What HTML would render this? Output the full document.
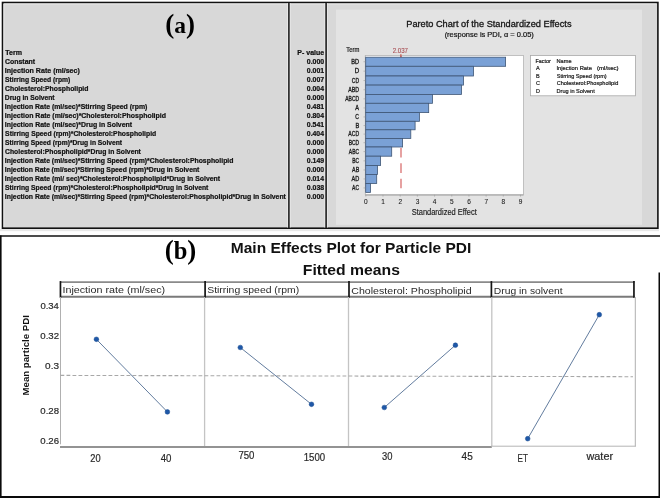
<!DOCTYPE html>
<html><head><meta charset="utf-8"><style>
html,body{margin:0;padding:0;background:#fff;}
body{width:660px;height:498px;overflow:hidden;font-family:"Liberation Sans", sans-serif;}
svg{display:block;will-change:transform;}
</style></head><body>
<svg width="660" height="498" viewBox="0 0 660 498">
<rect x="0" y="0" width="660" height="498" fill="#fff"/>
<rect x="0" y="229" width="659" height="2.2" fill="#e8e8e8"/>
<rect x="2.5" y="2.5" width="655.4" height="225.7" fill="#d8d8d8" stroke="#111" stroke-width="1.6"/>
<path d="M4,227 V4 H656.5" fill="none" stroke="#e6e6e6" stroke-width="1"/>
<rect x="336" y="9.6" width="306" height="215.2" fill="#e3e3e3"/>
<line x1="288.9" y1="3.3" x2="288.9" y2="227.4" stroke="#e6e6e6" stroke-width="3.8"/>
<line x1="288.9" y1="2" x2="288.9" y2="228.5" stroke="#111" stroke-width="1.5"/>
<line x1="326.1" y1="3.3" x2="326.1" y2="227.4" stroke="#e6e6e6" stroke-width="3.8"/>
<line x1="326.1" y1="2" x2="326.1" y2="228.5" stroke="#111" stroke-width="1.5"/>
<text x="5.23" y="54.80" font-size="6.9" fill="#111" font-weight="bold" font-family='"Liberation Sans", sans-serif' textLength="16.70" lengthAdjust="spacingAndGlyphs" stroke="#111" stroke-width="0.22">Term</text>
<text x="297.35" y="54.80" font-size="6.9" fill="#111" font-weight="bold" font-family='"Liberation Sans", sans-serif' textLength="26.80" lengthAdjust="spacingAndGlyphs" stroke="#111" stroke-width="0.22">P- value</text>
<text x="5.02" y="63.80" font-size="6.9" fill="#111" font-weight="bold" font-family='"Liberation Sans", sans-serif' textLength="30.07" lengthAdjust="spacingAndGlyphs" stroke="#111" stroke-width="0.22">Constant</text>
<text x="306.82" y="63.80" font-size="6.9" fill="#111" font-weight="bold" font-family='"Liberation Sans", sans-serif' textLength="17.37" lengthAdjust="spacingAndGlyphs" stroke="#111" stroke-width="0.22">0.000</text>
<text x="4.84" y="72.80" font-size="6.9" fill="#111" font-weight="bold" font-family='"Liberation Sans", sans-serif' textLength="75.01" lengthAdjust="spacingAndGlyphs" stroke="#111" stroke-width="0.22">Injection Rate (ml/sec)</text>
<text x="306.82" y="72.80" font-size="6.9" fill="#111" font-weight="bold" font-family='"Liberation Sans", sans-serif' textLength="17.27" lengthAdjust="spacingAndGlyphs" stroke="#111" stroke-width="0.22">0.001</text>
<text x="5.10" y="81.80" font-size="6.9" fill="#111" font-weight="bold" font-family='"Liberation Sans", sans-serif' textLength="65.22" lengthAdjust="spacingAndGlyphs" stroke="#111" stroke-width="0.22">Stirring Speed (rpm)</text>
<text x="306.82" y="81.80" font-size="6.9" fill="#111" font-weight="bold" font-family='"Liberation Sans", sans-serif' textLength="17.37" lengthAdjust="spacingAndGlyphs" stroke="#111" stroke-width="0.22">0.007</text>
<text x="5.03" y="90.80" font-size="6.9" fill="#111" font-weight="bold" font-family='"Liberation Sans", sans-serif' textLength="83.43" lengthAdjust="spacingAndGlyphs" stroke="#111" stroke-width="0.22">Cholesterol:Phospholipid</text>
<text x="306.83" y="90.80" font-size="6.9" fill="#111" font-weight="bold" font-family='"Liberation Sans", sans-serif' textLength="17.13" lengthAdjust="spacingAndGlyphs" stroke="#111" stroke-width="0.22">0.004</text>
<text x="4.86" y="99.80" font-size="6.9" fill="#111" font-weight="bold" font-family='"Liberation Sans", sans-serif' textLength="49.73" lengthAdjust="spacingAndGlyphs" stroke="#111" stroke-width="0.22">Drug in Solvent</text>
<text x="306.82" y="99.80" font-size="6.9" fill="#111" font-weight="bold" font-family='"Liberation Sans", sans-serif' textLength="17.37" lengthAdjust="spacingAndGlyphs" stroke="#111" stroke-width="0.22">0.000</text>
<text x="4.85" y="108.80" font-size="6.9" fill="#111" font-weight="bold" font-family='"Liberation Sans", sans-serif' textLength="142.46" lengthAdjust="spacingAndGlyphs" stroke="#111" stroke-width="0.22">Injection Rate (ml/sec)*Stirring Speed (rpm)</text>
<text x="306.82" y="108.80" font-size="6.9" fill="#111" font-weight="bold" font-family='"Liberation Sans", sans-serif' textLength="17.27" lengthAdjust="spacingAndGlyphs" stroke="#111" stroke-width="0.22">0.481</text>
<text x="4.85" y="117.80" font-size="6.9" fill="#111" font-weight="bold" font-family='"Liberation Sans", sans-serif' textLength="161.10" lengthAdjust="spacingAndGlyphs" stroke="#111" stroke-width="0.22">Injection Rate (ml/sec)*Cholesterol:Phospholipid</text>
<text x="306.83" y="117.80" font-size="6.9" fill="#111" font-weight="bold" font-family='"Liberation Sans", sans-serif' textLength="17.13" lengthAdjust="spacingAndGlyphs" stroke="#111" stroke-width="0.22">0.804</text>
<text x="4.85" y="126.80" font-size="6.9" fill="#111" font-weight="bold" font-family='"Liberation Sans", sans-serif' textLength="127.24" lengthAdjust="spacingAndGlyphs" stroke="#111" stroke-width="0.22">Injection Rate (ml/sec)*Drug in Solvent</text>
<text x="306.82" y="126.80" font-size="6.9" fill="#111" font-weight="bold" font-family='"Liberation Sans", sans-serif' textLength="17.27" lengthAdjust="spacingAndGlyphs" stroke="#111" stroke-width="0.22">0.541</text>
<text x="5.10" y="135.80" font-size="6.9" fill="#111" font-weight="bold" font-family='"Liberation Sans", sans-serif' textLength="151.09" lengthAdjust="spacingAndGlyphs" stroke="#111" stroke-width="0.22">Stirring Speed (rpm)*Cholesterol:Phospholipid</text>
<text x="306.83" y="135.80" font-size="6.9" fill="#111" font-weight="bold" font-family='"Liberation Sans", sans-serif' textLength="17.13" lengthAdjust="spacingAndGlyphs" stroke="#111" stroke-width="0.22">0.404</text>
<text x="5.10" y="144.80" font-size="6.9" fill="#111" font-weight="bold" font-family='"Liberation Sans", sans-serif' textLength="116.98" lengthAdjust="spacingAndGlyphs" stroke="#111" stroke-width="0.22">Stirring Speed (rpm)*Drug in Solvent</text>
<text x="306.82" y="144.80" font-size="6.9" fill="#111" font-weight="bold" font-family='"Liberation Sans", sans-serif' textLength="17.37" lengthAdjust="spacingAndGlyphs" stroke="#111" stroke-width="0.22">0.000</text>
<text x="5.03" y="153.80" font-size="6.9" fill="#111" font-weight="bold" font-family='"Liberation Sans", sans-serif' textLength="135.83" lengthAdjust="spacingAndGlyphs" stroke="#111" stroke-width="0.22">Cholesterol:Phospholipid*Drug in Solvent</text>
<text x="306.82" y="153.80" font-size="6.9" fill="#111" font-weight="bold" font-family='"Liberation Sans", sans-serif' textLength="17.37" lengthAdjust="spacingAndGlyphs" stroke="#111" stroke-width="0.22">0.000</text>
<text x="4.85" y="162.80" font-size="6.9" fill="#111" font-weight="bold" font-family='"Liberation Sans", sans-serif' textLength="228.61" lengthAdjust="spacingAndGlyphs" stroke="#111" stroke-width="0.22">Injection Rate (ml/sec)*Stirring Speed (rpm)*Cholesterol:Phospholipid</text>
<text x="306.82" y="162.80" font-size="6.9" fill="#111" font-weight="bold" font-family='"Liberation Sans", sans-serif' textLength="17.34" lengthAdjust="spacingAndGlyphs" stroke="#111" stroke-width="0.22">0.149</text>
<text x="4.86" y="171.80" font-size="6.9" fill="#111" font-weight="bold" font-family='"Liberation Sans", sans-serif' textLength="194.54" lengthAdjust="spacingAndGlyphs" stroke="#111" stroke-width="0.22">Injection Rate (ml/sec)*Stirring Speed (rpm)*Drug in Solvent</text>
<text x="306.82" y="171.80" font-size="6.9" fill="#111" font-weight="bold" font-family='"Liberation Sans", sans-serif' textLength="17.37" lengthAdjust="spacingAndGlyphs" stroke="#111" stroke-width="0.22">0.000</text>
<text x="4.85" y="180.80" font-size="6.9" fill="#111" font-weight="bold" font-family='"Liberation Sans", sans-serif' textLength="215.23" lengthAdjust="spacingAndGlyphs" stroke="#111" stroke-width="0.22">Injection Rate (ml/ sec)*Cholesterol:Phospholipid*Drug in Solvent</text>
<text x="306.83" y="180.80" font-size="6.9" fill="#111" font-weight="bold" font-family='"Liberation Sans", sans-serif' textLength="17.13" lengthAdjust="spacingAndGlyphs" stroke="#111" stroke-width="0.22">0.014</text>
<text x="5.10" y="189.80" font-size="6.9" fill="#111" font-weight="bold" font-family='"Liberation Sans", sans-serif' textLength="203.28" lengthAdjust="spacingAndGlyphs" stroke="#111" stroke-width="0.22">Stirring Speed (rpm)*Cholesterol:Phospholipid*Drug in Solvent</text>
<text x="306.82" y="189.80" font-size="6.9" fill="#111" font-weight="bold" font-family='"Liberation Sans", sans-serif' textLength="17.30" lengthAdjust="spacingAndGlyphs" stroke="#111" stroke-width="0.22">0.038</text>
<text x="4.85" y="198.80" font-size="6.9" fill="#111" font-weight="bold" font-family='"Liberation Sans", sans-serif' textLength="281.05" lengthAdjust="spacingAndGlyphs" stroke="#111" stroke-width="0.22">Injection Rate (ml/sec)*Stirring Speed (rpm)*Cholesterol:Phospholipid*Drug in Solvent</text>
<text x="306.82" y="198.80" font-size="6.9" fill="#111" font-weight="bold" font-family='"Liberation Sans", sans-serif' textLength="17.37" lengthAdjust="spacingAndGlyphs" stroke="#111" stroke-width="0.22">0.000</text>
<text x="180" y="33.2" font-size="27" font-weight="bold" text-anchor="middle" font-family='"Liberation Serif", serif' fill="#000">(<tspan font-size="23.5">a</tspan>)</text>
<text x="406.26" y="26.70" font-size="9.3" fill="#151515" font-weight="normal" font-family='"Liberation Sans", sans-serif' textLength="165.28" lengthAdjust="spacingAndGlyphs" stroke="#151515" stroke-width="0.3">Pareto Chart of the Standardized Effects</text>
<text x="444.65" y="37.00" font-size="6.9" fill="#151515" font-weight="normal" font-family='"Liberation Sans", sans-serif' textLength="89.13" lengthAdjust="spacingAndGlyphs" stroke="#151515" stroke-width="0.2">(response is PDI, α = 0.05)</text>
<text x="346.28" y="51.80" font-size="6.5" fill="#1a1a1a" font-weight="normal" font-family='"Liberation Sans", sans-serif' textLength="13.08" lengthAdjust="spacingAndGlyphs" stroke="#1a1a1a" stroke-width="0.2">Term</text>
<text x="392.69" y="52.90" font-size="6.6" fill="#a84f55" font-weight="normal" font-family='"Liberation Sans", sans-serif' textLength="15.33" lengthAdjust="spacingAndGlyphs" stroke="#a84f55" stroke-width="0.12">2.037</text>
<rect x="365.3" y="55.5" width="158.2" height="139.3" fill="#fff" stroke="#b4b4b4" stroke-width="0.8"/>
<line x1="401" y1="55.5" x2="401" y2="193" stroke="#dc7b7b" stroke-width="1.4" stroke-dasharray="9.6 5.8"/>
<line x1="400.9" y1="54" x2="400.9" y2="57" stroke="#c0392b" stroke-width="0.8"/>
<rect x="365.7" y="57.20" width="139.90" height="9.10" fill="#7aa1d6" stroke="#3f5675" stroke-width="0.8"/>
<text x="351.35" y="63.95" font-size="6.3" fill="#1a1a1a" font-weight="normal" font-family='"Liberation Sans", sans-serif' textLength="7.83" lengthAdjust="spacingAndGlyphs" stroke="#1a1a1a" stroke-width="0.3">BD</text>
<line x1="363.5" y1="61.75" x2="365.3" y2="61.75" stroke="#999" stroke-width="0.6"/>
<rect x="365.7" y="66.30" width="107.80" height="9.70" fill="#7aa1d6" stroke="#3f5675" stroke-width="0.8"/>
<text x="354.70" y="73.35" font-size="6.3" fill="#1a1a1a" font-weight="normal" font-family='"Liberation Sans", sans-serif' textLength="4.49" lengthAdjust="spacingAndGlyphs" stroke="#1a1a1a" stroke-width="0.3">D</text>
<line x1="363.5" y1="71.15" x2="365.3" y2="71.15" stroke="#999" stroke-width="0.6"/>
<rect x="365.7" y="76.00" width="97.80" height="9.10" fill="#7aa1d6" stroke="#3f5675" stroke-width="0.8"/>
<text x="351.85" y="82.75" font-size="6.3" fill="#1a1a1a" font-weight="normal" font-family='"Liberation Sans", sans-serif' textLength="7.30" lengthAdjust="spacingAndGlyphs" stroke="#1a1a1a" stroke-width="0.3">CD</text>
<line x1="363.5" y1="80.55" x2="365.3" y2="80.55" stroke="#999" stroke-width="0.6"/>
<rect x="365.7" y="85.10" width="95.80" height="9.30" fill="#7aa1d6" stroke="#3f5675" stroke-width="0.8"/>
<text x="348.30" y="91.95" font-size="6.3" fill="#1a1a1a" font-weight="normal" font-family='"Liberation Sans", sans-serif' textLength="10.84" lengthAdjust="spacingAndGlyphs" stroke="#1a1a1a" stroke-width="0.3">ABD</text>
<line x1="363.5" y1="89.75" x2="365.3" y2="89.75" stroke="#999" stroke-width="0.6"/>
<rect x="365.7" y="94.40" width="66.80" height="8.90" fill="#7aa1d6" stroke="#3f5675" stroke-width="0.8"/>
<text x="345.30" y="101.05" font-size="6.3" fill="#1a1a1a" font-weight="normal" font-family='"Liberation Sans", sans-serif' textLength="13.84" lengthAdjust="spacingAndGlyphs" stroke="#1a1a1a" stroke-width="0.3">ABCD</text>
<line x1="363.5" y1="98.85" x2="365.3" y2="98.85" stroke="#999" stroke-width="0.6"/>
<rect x="365.7" y="103.30" width="63.00" height="9.30" fill="#7aa1d6" stroke="#3f5675" stroke-width="0.8"/>
<text x="355.20" y="110.15" font-size="6.3" fill="#1a1a1a" font-weight="normal" font-family='"Liberation Sans", sans-serif' textLength="3.71" lengthAdjust="spacingAndGlyphs" stroke="#1a1a1a" stroke-width="0.3">A</text>
<line x1="363.5" y1="107.95" x2="365.3" y2="107.95" stroke="#999" stroke-width="0.6"/>
<rect x="365.7" y="112.60" width="53.70" height="8.70" fill="#7aa1d6" stroke="#3f5675" stroke-width="0.8"/>
<text x="355.34" y="119.15" font-size="6.3" fill="#1a1a1a" font-weight="normal" font-family='"Liberation Sans", sans-serif' textLength="3.75" lengthAdjust="spacingAndGlyphs" stroke="#1a1a1a" stroke-width="0.3">C</text>
<line x1="363.5" y1="116.95" x2="365.3" y2="116.95" stroke="#999" stroke-width="0.6"/>
<rect x="365.7" y="121.30" width="49.40" height="8.50" fill="#7aa1d6" stroke="#3f5675" stroke-width="0.8"/>
<text x="355.45" y="127.75" font-size="6.3" fill="#1a1a1a" font-weight="normal" font-family='"Liberation Sans", sans-serif' textLength="3.74" lengthAdjust="spacingAndGlyphs" stroke="#1a1a1a" stroke-width="0.3">B</text>
<line x1="363.5" y1="125.55" x2="365.3" y2="125.55" stroke="#999" stroke-width="0.6"/>
<rect x="365.7" y="129.80" width="45.10" height="8.60" fill="#7aa1d6" stroke="#3f5675" stroke-width="0.8"/>
<text x="348.30" y="136.30" font-size="6.3" fill="#1a1a1a" font-weight="normal" font-family='"Liberation Sans", sans-serif' textLength="10.84" lengthAdjust="spacingAndGlyphs" stroke="#1a1a1a" stroke-width="0.3">ACD</text>
<line x1="363.5" y1="134.10" x2="365.3" y2="134.10" stroke="#999" stroke-width="0.6"/>
<rect x="365.7" y="138.40" width="36.90" height="8.60" fill="#7aa1d6" stroke="#3f5675" stroke-width="0.8"/>
<text x="348.71" y="144.90" font-size="6.3" fill="#1a1a1a" font-weight="normal" font-family='"Liberation Sans", sans-serif' textLength="10.42" lengthAdjust="spacingAndGlyphs" stroke="#1a1a1a" stroke-width="0.3">BCD</text>
<line x1="363.5" y1="142.70" x2="365.3" y2="142.70" stroke="#999" stroke-width="0.6"/>
<rect x="365.7" y="147.00" width="26.00" height="9.20" fill="#7aa1d6" stroke="#3f5675" stroke-width="0.8"/>
<text x="348.80" y="153.80" font-size="6.3" fill="#1a1a1a" font-weight="normal" font-family='"Liberation Sans", sans-serif' textLength="10.28" lengthAdjust="spacingAndGlyphs" stroke="#1a1a1a" stroke-width="0.3">ABC</text>
<line x1="363.5" y1="151.60" x2="365.3" y2="151.60" stroke="#999" stroke-width="0.6"/>
<rect x="365.7" y="156.20" width="14.90" height="9.30" fill="#7aa1d6" stroke="#3f5675" stroke-width="0.8"/>
<text x="352.20" y="163.05" font-size="6.3" fill="#1a1a1a" font-weight="normal" font-family='"Liberation Sans", sans-serif' textLength="6.89" lengthAdjust="spacingAndGlyphs" stroke="#1a1a1a" stroke-width="0.3">BC</text>
<line x1="363.5" y1="160.85" x2="365.3" y2="160.85" stroke="#999" stroke-width="0.6"/>
<rect x="365.7" y="165.50" width="11.80" height="8.90" fill="#7aa1d6" stroke="#3f5675" stroke-width="0.8"/>
<text x="352.10" y="172.15" font-size="6.3" fill="#1a1a1a" font-weight="normal" font-family='"Liberation Sans", sans-serif' textLength="7.09" lengthAdjust="spacingAndGlyphs" stroke="#1a1a1a" stroke-width="0.3">AB</text>
<line x1="363.5" y1="169.95" x2="365.3" y2="169.95" stroke="#999" stroke-width="0.6"/>
<rect x="365.7" y="174.40" width="11.00" height="9.10" fill="#7aa1d6" stroke="#3f5675" stroke-width="0.8"/>
<text x="351.40" y="181.15" font-size="6.3" fill="#1a1a1a" font-weight="normal" font-family='"Liberation Sans", sans-serif' textLength="7.78" lengthAdjust="spacingAndGlyphs" stroke="#1a1a1a" stroke-width="0.3">AD</text>
<line x1="363.5" y1="178.95" x2="365.3" y2="178.95" stroke="#999" stroke-width="0.6"/>
<rect x="365.7" y="183.50" width="4.80" height="8.90" fill="#7aa1d6" stroke="#3f5675" stroke-width="0.8"/>
<text x="352.10" y="190.15" font-size="6.3" fill="#1a1a1a" font-weight="normal" font-family='"Liberation Sans", sans-serif' textLength="7.00" lengthAdjust="spacingAndGlyphs" stroke="#1a1a1a" stroke-width="0.3">AC</text>
<line x1="363.5" y1="187.95" x2="365.3" y2="187.95" stroke="#999" stroke-width="0.6"/>
<line x1="365.3" y1="195" x2="523.5" y2="195" stroke="#a4a4a4" stroke-width="1"/>
<line x1="365.80" y1="194.8" x2="365.80" y2="196.60000000000002" stroke="#999" stroke-width="0.6"/>
<text x="365.9" y="203.9" font-size="6.5" fill="#1a1a1a" font-weight="normal" text-anchor="middle" font-family='"Liberation Sans", sans-serif' stroke="#1a1a1a" stroke-width="0.08">0</text>
<line x1="382.99" y1="194.8" x2="382.99" y2="196.60000000000002" stroke="#999" stroke-width="0.6"/>
<text x="383.09" y="203.9" font-size="6.5" fill="#1a1a1a" font-weight="normal" text-anchor="middle" font-family='"Liberation Sans", sans-serif' stroke="#1a1a1a" stroke-width="0.08">1</text>
<line x1="400.18" y1="194.8" x2="400.18" y2="196.60000000000002" stroke="#999" stroke-width="0.6"/>
<text x="400.28" y="203.9" font-size="6.5" fill="#1a1a1a" font-weight="normal" text-anchor="middle" font-family='"Liberation Sans", sans-serif' stroke="#1a1a1a" stroke-width="0.08">2</text>
<line x1="417.37" y1="194.8" x2="417.37" y2="196.60000000000002" stroke="#999" stroke-width="0.6"/>
<text x="417.47" y="203.9" font-size="6.5" fill="#1a1a1a" font-weight="normal" text-anchor="middle" font-family='"Liberation Sans", sans-serif' stroke="#1a1a1a" stroke-width="0.08">3</text>
<line x1="434.56" y1="194.8" x2="434.56" y2="196.60000000000002" stroke="#999" stroke-width="0.6"/>
<text x="434.66" y="203.9" font-size="6.5" fill="#1a1a1a" font-weight="normal" text-anchor="middle" font-family='"Liberation Sans", sans-serif' stroke="#1a1a1a" stroke-width="0.08">4</text>
<line x1="451.75" y1="194.8" x2="451.75" y2="196.60000000000002" stroke="#999" stroke-width="0.6"/>
<text x="451.85" y="203.9" font-size="6.5" fill="#1a1a1a" font-weight="normal" text-anchor="middle" font-family='"Liberation Sans", sans-serif' stroke="#1a1a1a" stroke-width="0.08">5</text>
<line x1="468.94" y1="194.8" x2="468.94" y2="196.60000000000002" stroke="#999" stroke-width="0.6"/>
<text x="469.04" y="203.9" font-size="6.5" fill="#1a1a1a" font-weight="normal" text-anchor="middle" font-family='"Liberation Sans", sans-serif' stroke="#1a1a1a" stroke-width="0.08">6</text>
<line x1="486.13" y1="194.8" x2="486.13" y2="196.60000000000002" stroke="#999" stroke-width="0.6"/>
<text x="486.23" y="203.9" font-size="6.5" fill="#1a1a1a" font-weight="normal" text-anchor="middle" font-family='"Liberation Sans", sans-serif' stroke="#1a1a1a" stroke-width="0.08">7</text>
<line x1="503.32" y1="194.8" x2="503.32" y2="196.60000000000002" stroke="#999" stroke-width="0.6"/>
<text x="503.42" y="203.9" font-size="6.5" fill="#1a1a1a" font-weight="normal" text-anchor="middle" font-family='"Liberation Sans", sans-serif' stroke="#1a1a1a" stroke-width="0.08">8</text>
<line x1="520.51" y1="194.8" x2="520.51" y2="196.60000000000002" stroke="#999" stroke-width="0.6"/>
<text x="520.61" y="203.9" font-size="6.5" fill="#1a1a1a" font-weight="normal" text-anchor="middle" font-family='"Liberation Sans", sans-serif' stroke="#1a1a1a" stroke-width="0.08">9</text>
<text x="411.66" y="214.70" font-size="8.7" fill="#1a1a1a" font-weight="normal" font-family='"Liberation Sans", sans-serif' textLength="65.11" lengthAdjust="spacingAndGlyphs" stroke="#1a1a1a" stroke-width="0.15">Standardized Effect</text>
<rect x="530.4" y="55.4" width="105" height="40.4" fill="#fff" stroke="#a8a8a8" stroke-width="0.8"/>
<text x="535.47" y="63.00" font-size="5.5" fill="#1a1a1a" font-weight="normal" font-family='"Liberation Sans", sans-serif' textLength="15.34" lengthAdjust="spacingAndGlyphs" stroke="#1a1a1a" stroke-width="0.2">Factor</text>
<text x="556.55" y="63.00" font-size="5.5" fill="#1a1a1a" font-weight="normal" font-family='"Liberation Sans", sans-serif' textLength="15.02" lengthAdjust="spacingAndGlyphs" stroke="#1a1a1a" stroke-width="0.2">Name</text>
<text x="536.1" y="70.2" font-size="5.5" fill="#1a1a1a" font-weight="normal" text-anchor="start" font-family='"Liberation Sans", sans-serif' stroke="#1a1a1a" stroke-width="0.2">A</text>
<text x="556.48" y="70.20" font-size="5.5" fill="#1a1a1a" font-weight="normal" font-family='"Liberation Sans", sans-serif' textLength="35.48" lengthAdjust="spacingAndGlyphs" stroke="#1a1a1a" stroke-width="0.2">Injection Rate</text>
<text x="536.1" y="77.8" font-size="5.5" fill="#1a1a1a" font-weight="normal" text-anchor="start" font-family='"Liberation Sans", sans-serif' stroke="#1a1a1a" stroke-width="0.2">B</text>
<text x="556.75" y="77.80" font-size="5.5" fill="#1a1a1a" font-weight="normal" font-family='"Liberation Sans", sans-serif' textLength="49.90" lengthAdjust="spacingAndGlyphs" stroke="#1a1a1a" stroke-width="0.2">Stirring Speed (rpm)</text>
<text x="536.1" y="85.4" font-size="5.5" fill="#1a1a1a" font-weight="normal" text-anchor="start" font-family='"Liberation Sans", sans-serif' stroke="#1a1a1a" stroke-width="0.2">C</text>
<text x="556.72" y="85.40" font-size="5.5" fill="#1a1a1a" font-weight="normal" font-family='"Liberation Sans", sans-serif' textLength="61.76" lengthAdjust="spacingAndGlyphs" stroke="#1a1a1a" stroke-width="0.2">Cholesterol:Phospholipid</text>
<text x="536.1" y="92.5" font-size="5.5" fill="#1a1a1a" font-weight="normal" text-anchor="start" font-family='"Liberation Sans", sans-serif' stroke="#1a1a1a" stroke-width="0.2">D</text>
<text x="556.55" y="92.50" font-size="5.5" fill="#1a1a1a" font-weight="normal" font-family='"Liberation Sans", sans-serif' textLength="38.19" lengthAdjust="spacingAndGlyphs" stroke="#1a1a1a" stroke-width="0.2">Drug in Solvent</text>
<text x="597.14" y="69.90" font-size="5.0" fill="#1a1a1a" font-weight="normal" font-family='"Liberation Sans", sans-serif' textLength="21.35" lengthAdjust="spacingAndGlyphs" stroke="#1a1a1a" stroke-width="0.2">(ml/sec)</text>
<line x1="0" y1="236" x2="660" y2="236" stroke="#111" stroke-width="1.6"/>
<line x1="0.8" y1="235.5" x2="0.8" y2="498" stroke="#0a0a0a" stroke-width="1.6"/>
<line x1="0" y1="497" x2="660" y2="497" stroke="#0a0a0a" stroke-width="2.2"/>
<line x1="659.3" y1="272.6" x2="659.3" y2="498" stroke="#0a0a0a" stroke-width="1.6"/>
<text x="180.5" y="258.6" font-size="27" font-weight="bold" text-anchor="middle" font-family='"Liberation Serif", serif' fill="#000">(<tspan font-size="24.5">b</tspan>)</text>
<text x="230.79" y="252.50" font-size="15.4" fill="#111" font-weight="bold" font-family='"Liberation Sans", sans-serif' textLength="240.48" lengthAdjust="spacingAndGlyphs" >Main Effects Plot for Particle PDI</text>
<text x="302.88" y="274.50" font-size="15.4" fill="#111" font-weight="bold" font-family='"Liberation Sans", sans-serif' textLength="97.10" lengthAdjust="spacingAndGlyphs" >Fitted means</text>
<rect x="60.4" y="282" width="573.6" height="14.8" fill="#fff"/>
<line x1="60" y1="282.1" x2="634.6" y2="282.1" stroke="#8a8a8a" stroke-width="1.9"/>
<line x1="60" y1="296.7" x2="634.6" y2="296.7" stroke="#7a7a7a" stroke-width="2"/>
<line x1="60.45" y1="281.1" x2="60.45" y2="297.7" stroke="#151515" stroke-width="1.7"/>
<line x1="205.1" y1="281.1" x2="205.1" y2="297.7" stroke="#151515" stroke-width="1.7"/>
<line x1="349.0" y1="281.1" x2="349.0" y2="297.7" stroke="#151515" stroke-width="1.7"/>
<line x1="491.4" y1="281.1" x2="491.4" y2="297.7" stroke="#151515" stroke-width="1.7"/>
<line x1="633.95" y1="281.1" x2="633.95" y2="297.7" stroke="#151515" stroke-width="1.7"/>
<text x="62.43" y="293.40" font-size="9.3" fill="#2a2a2a" font-weight="normal" font-family='"Liberation Sans", sans-serif' textLength="102.75" lengthAdjust="spacingAndGlyphs" >Injection rate (ml/sec)</text>
<text x="207.23" y="293.40" font-size="9.3" fill="#2a2a2a" font-weight="normal" font-family='"Liberation Sans", sans-serif' textLength="92.01" lengthAdjust="spacingAndGlyphs" >Stirring speed (rpm)</text>
<text x="351.27" y="293.50" font-size="9.3" fill="#2a2a2a" font-weight="normal" font-family='"Liberation Sans", sans-serif' textLength="120.33" lengthAdjust="spacingAndGlyphs" >Cholesterol: Phospholipid</text>
<text x="493.77" y="293.50" font-size="9.3" fill="#2a2a2a" font-weight="normal" font-family='"Liberation Sans", sans-serif' textLength="68.83" lengthAdjust="spacingAndGlyphs" >Drug in solvent</text>
<line x1="204.6" y1="297" x2="204.6" y2="446" stroke="#c4c4c4" stroke-width="1.3"/>
<line x1="348.5" y1="297" x2="348.5" y2="446" stroke="#c4c4c4" stroke-width="1.3"/>
<line x1="491.8" y1="297" x2="491.8" y2="446" stroke="#c4c4c4" stroke-width="1.3"/>
<line x1="60.5" y1="297" x2="60.5" y2="444.3" stroke="#b0b0b0" stroke-width="1"/>
<line x1="635.3" y1="297" x2="635.3" y2="446.5" stroke="#b0b0b0" stroke-width="1"/>
<line x1="60" y1="446.9" x2="491.8" y2="446.9" stroke="#939393" stroke-width="2"/>
<line x1="491.5" y1="446.2" x2="635.8" y2="446.2" stroke="#b4b4b4" stroke-width="1"/>
<line x1="60.5" y1="375.4" x2="633" y2="376.7" stroke="#a8a8a8" stroke-width="1.1" stroke-dasharray="3.8 2.2"/>
<text x="40.42" y="309.15" font-size="9.7" fill="#2a2a2a" font-weight="normal" font-family='"Liberation Sans", sans-serif' textLength="18.48" lengthAdjust="spacingAndGlyphs" stroke="#2a2a2a" stroke-width="0.2">0.34</text>
<text x="40.31" y="339.05" font-size="9.7" fill="#2a2a2a" font-weight="normal" font-family='"Liberation Sans", sans-serif' textLength="18.78" lengthAdjust="spacingAndGlyphs" stroke="#2a2a2a" stroke-width="0.2">0.32</text>
<text x="45.10" y="369.15" font-size="9.7" fill="#2a2a2a" font-weight="normal" font-family='"Liberation Sans", sans-serif' textLength="13.90" lengthAdjust="spacingAndGlyphs" stroke="#2a2a2a" stroke-width="0.2">0.3</text>
<text x="40.32" y="413.95" font-size="9.7" fill="#2a2a2a" font-weight="normal" font-family='"Liberation Sans", sans-serif' textLength="18.68" lengthAdjust="spacingAndGlyphs" stroke="#2a2a2a" stroke-width="0.2">0.28</text>
<text x="40.32" y="443.75" font-size="9.7" fill="#2a2a2a" font-weight="normal" font-family='"Liberation Sans", sans-serif' textLength="18.68" lengthAdjust="spacingAndGlyphs" stroke="#2a2a2a" stroke-width="0.2">0.26</text>
<g transform="translate(28.8,395.43) rotate(-90)"><text x="0" y="0" font-size="9.9" font-weight="bold" fill="#111" font-family='"Liberation Sans", sans-serif' textLength="80.26" lengthAdjust="spacingAndGlyphs">Mean particle PDI</text></g>
<text x="90.24" y="462.00" font-size="10.0" fill="#2a2a2a" font-weight="normal" font-family='"Liberation Sans", sans-serif' textLength="10.31" lengthAdjust="spacingAndGlyphs" stroke="#2a2a2a" stroke-width="0.2">20</text>
<text x="160.71" y="461.80" font-size="10.0" fill="#2a2a2a" font-weight="normal" font-family='"Liberation Sans", sans-serif' textLength="10.75" lengthAdjust="spacingAndGlyphs" stroke="#2a2a2a" stroke-width="0.2">40</text>
<text x="238.42" y="459.10" font-size="10.0" fill="#2a2a2a" font-weight="normal" font-family='"Liberation Sans", sans-serif' textLength="16.05" lengthAdjust="spacingAndGlyphs" stroke="#2a2a2a" stroke-width="0.2">750</text>
<text x="303.78" y="460.70" font-size="10.0" fill="#2a2a2a" font-weight="normal" font-family='"Liberation Sans", sans-serif' textLength="21.35" lengthAdjust="spacingAndGlyphs" stroke="#2a2a2a" stroke-width="0.2">1500</text>
<text x="381.93" y="460.00" font-size="10.0" fill="#2a2a2a" font-weight="normal" font-family='"Liberation Sans", sans-serif' textLength="10.42" lengthAdjust="spacingAndGlyphs" stroke="#2a2a2a" stroke-width="0.2">30</text>
<text x="461.60" y="460.00" font-size="10.0" fill="#2a2a2a" font-weight="normal" font-family='"Liberation Sans", sans-serif' textLength="11.12" lengthAdjust="spacingAndGlyphs" stroke="#2a2a2a" stroke-width="0.2">45</text>
<text x="517.55" y="461.90" font-size="10.0" fill="#2a2a2a" font-weight="normal" font-family='"Liberation Sans", sans-serif' textLength="10.33" lengthAdjust="spacingAndGlyphs" stroke="#2a2a2a" stroke-width="0.2">ET</text>
<text x="586.50" y="459.70" font-size="10.0" fill="#2a2a2a" font-weight="normal" font-family='"Liberation Sans", sans-serif' textLength="26.52" lengthAdjust="spacingAndGlyphs" stroke="#2a2a2a" stroke-width="0.2">water</text>
<line x1="96.4" y1="339.3" x2="167.4" y2="411.9" stroke="#5a7599" stroke-width="0.95"/>
<line x1="240.3" y1="347.5" x2="311.5" y2="404.3" stroke="#5a7599" stroke-width="0.95"/>
<line x1="384.3" y1="407.5" x2="455.4" y2="345.2" stroke="#5a7599" stroke-width="0.95"/>
<line x1="527.7" y1="438.7" x2="599.3" y2="314.7" stroke="#5a7599" stroke-width="0.95"/>
<circle cx="96.4" cy="339.3" r="2.35" fill="#1f58a8" stroke="#184b8f" stroke-width="0.5"/>
<circle cx="167.4" cy="411.9" r="2.35" fill="#1f58a8" stroke="#184b8f" stroke-width="0.5"/>
<circle cx="240.3" cy="347.5" r="2.35" fill="#1f58a8" stroke="#184b8f" stroke-width="0.5"/>
<circle cx="311.5" cy="404.3" r="2.35" fill="#1f58a8" stroke="#184b8f" stroke-width="0.5"/>
<circle cx="384.3" cy="407.5" r="2.35" fill="#1f58a8" stroke="#184b8f" stroke-width="0.5"/>
<circle cx="455.4" cy="345.2" r="2.35" fill="#1f58a8" stroke="#184b8f" stroke-width="0.5"/>
<circle cx="527.7" cy="438.7" r="2.35" fill="#1f58a8" stroke="#184b8f" stroke-width="0.5"/>
<circle cx="599.3" cy="314.7" r="2.35" fill="#1f58a8" stroke="#184b8f" stroke-width="0.5"/>
</svg>
</body></html>
